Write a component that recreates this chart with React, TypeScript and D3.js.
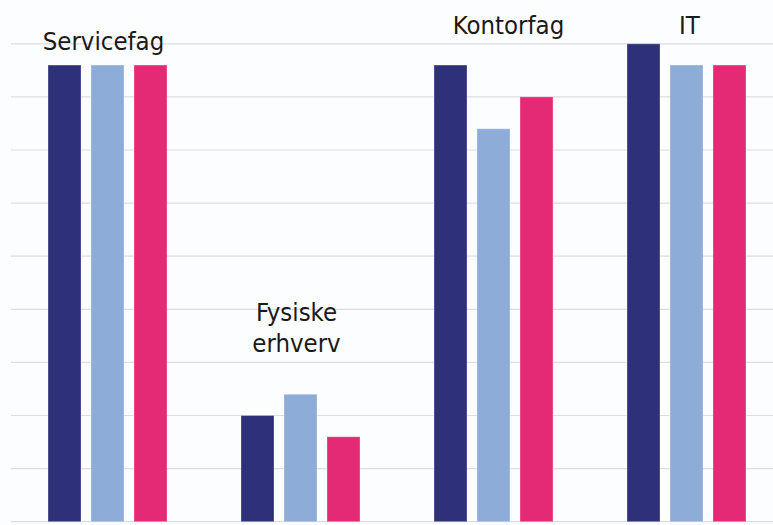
import React from 'react';
import * as d3 from 'd3';

// categories (label lines) and three series of values
const categories = ['Servicefag', 'Fysiske erhverv', 'Kontorfag', 'IT'];
const labelLines = [['Servicefag'], ['Fysiske', 'erhverv'], ['Kontorfag'], ['IT']];
const series = ['Serie 1', 'Serie 2', 'Serie 3'];
const serie1 = [4.3, 1.0, 4.3, 4.5];
const serie2 = [4.3, 1.2, 3.7, 4.3];
const serie3 = [4.3, 0.8, 4.0, 4.3];
const colors = ['#2e3179', '#8eacd8', '#e42a74'];

// where each category label sits (value units above baseline / px shift)
const labelValue = [4.44, 1.89, 4.59, 4.59];
const labelDx = [-4, -4, 15, 3];

const W = 773;
const H = 525;

const App: React.FC = () => {
  const values = [serie1, serie2, serie3];

  const x0 = d3
    .scaleBand<string>()
    .domain(categories)
    .range([11, 783])
    .paddingInner(0.3316)
    .paddingOuter(0.1658);

  const x1 = d3
    .scaleBand<string>()
    .domain(series)
    .range([0, x0.bandwidth()])
    .paddingInner(0.2326)
    .paddingOuter(0.1163);

  const y = d3.scaleLinear().domain([0, 4.5]).range([521.7, 43.8]);
  const ticks = d3.range(0, 4.51, 0.5);

  return (
    <svg
      width={W}
      height={H}
      style={{ position: 'absolute', left: 0, top: 0, background: '#fbfdff' }}
    >
      {/* gridlines */}
      {ticks.map(t => (
        <line
          key={t}
          x1={11}
          x2={W}
          y1={y(t)}
          y2={y(t)}
          stroke="#dcdde1"
          strokeWidth={1.2}
        />
      ))}

      {/* bars */}
      {categories.map((c, i) => (
        <g key={c} transform={`translate(${x0(c)},0)`}>
          {series.map((s, j) => (
            <rect
              key={s}
              x={x1(s)}
              y={y(values[j][i])}
              width={x1.bandwidth()}
              height={y(0) - y(values[j][i])}
              fill={colors[j]}
              stroke="#ffffff"
              strokeOpacity={0.3}
              strokeWidth={1}
            />
          ))}
        </g>
      ))}

      {/* category labels */}
      {categories.map((c, i) => (
        <text
          key={c}
          x={(x0(c) as number) + x0.bandwidth() / 2 + labelDx[i]}
          y={y(labelValue[i])}
          textAnchor="middle"
          fontFamily="'DejaVu Sans Condensed', 'DejaVu Sans', sans-serif"
          fontStretch="condensed"
          fontSize={25.5}
          fill="#1a1a1a"
        >
          {labelLines[i].map((ln, k) => (
            <tspan key={k} x={(x0(c) as number) + x0.bandwidth() / 2 + labelDx[i]} dy={k === 0 ? 0 : 31.5}>
              {ln}
            </tspan>
          ))}
        </text>
      ))}
    </svg>
  );
};

export default App;
